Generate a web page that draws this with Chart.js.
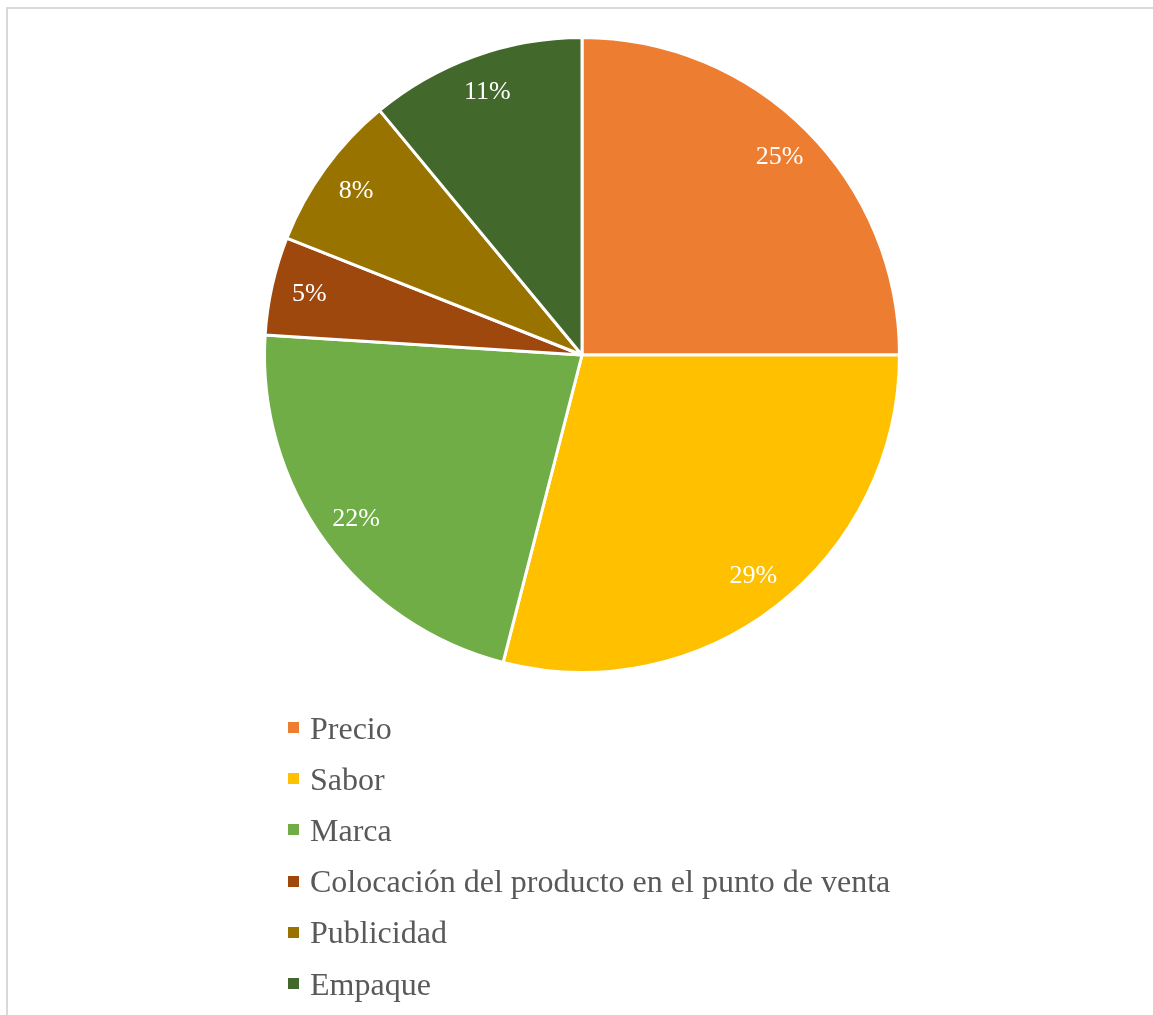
<!DOCTYPE html>
<html>
<head>
<meta charset="utf-8">
<script src="https://cdn.jsdelivr.net/npm/chart.js@4.4.1/dist/chart.umd.min.js"></script>
<style>
  html, body { margin: 0; padding: 0; background: #fff; overflow: hidden; }
  #wrap { position: relative; width: 1153px; height: 1015px; overflow: hidden; }
  #frame { position: absolute; left: 6px; top: 7px; width: 1300px; height: 1200px;
           border: 2px solid #d9d9d9; box-sizing: border-box; }
  #pie { position: absolute; left: 0; top: 0; }
  #legend { position: absolute; left: 288px; top: 702px; margin: 0; padding: 0; list-style: none;
            font-family: "Liberation Serif", "Times New Roman", serif; font-size: 32px; color: #595959; }
  #legend li { height: 51.2px; line-height: 40px; display: flex; align-items: center; white-space: nowrap; }
  #legend li span { display: inline-block; width: 11px; height: 11px; margin-right: 11px; }
</style>
</head>
<body>
<div id="wrap">
  <div id="frame"></div>
  <canvas id="pie" width="1153" height="1015"></canvas>
  <ul id="legend"></ul>
</div>
<script>
const categorias = ['Precio', 'Sabor', 'Marca', 'Colocación del producto en el punto de venta', 'Publicidad', 'Empaque']
const porcentajes = [25, 29, 22, 5, 8, 11]
const colores = ['#ED7D31', '#FFC000', '#70AD47', '#9E480E', '#997300', '#43682B']

// white percentage labels inside each slice
const etiquetas = {
    id: 'etiquetas',
    afterDatasetsDraw(chart) {
        const c = chart.ctx
        const meta = chart.getDatasetMeta(0)
        c.save()
        c.fillStyle = '#ffffff'
        c.font = '26px "Liberation Serif", "Times New Roman", serif'
        c.textAlign = 'center'
        c.textBaseline = 'middle'
        meta.data.forEach((arc, i) => {
            const p = arc.getProps(['x', 'y', 'startAngle', 'endAngle', 'outerRadius'], true)
            const mid = (p.startAngle + p.endAngle) / 2
            const r = p.outerRadius * 0.88
            c.fillText(porcentajes[i] + '%', p.x + Math.cos(mid) * r, p.y + Math.sin(mid) * r)
        })
        c.restore()
    }
}

// legend list below the pie
const leyenda = {
    id: 'leyenda',
    afterUpdate(chart) {
        const ul = document.getElementById('legend')
        ul.innerHTML = ''
        chart.options.plugins.legend.labels.generateLabels(chart).forEach(item => {
            const li = document.createElement('li')
            const box = document.createElement('span')
            box.style.background = item.fillStyle
            li.appendChild(box)
            li.appendChild(document.createTextNode(item.text))
            ul.appendChild(li)
        })
    }
}

new Chart(document.getElementById('pie'), {
    type: 'pie',
    data: {
        labels: categorias,
        datasets: [{
            data: porcentajes,
            backgroundColor: colores,
            borderColor: '#ffffff',
            borderWidth: 3,
            hoverOffset: 0
        }]
    },
    options: {
        responsive: false,
        animation: false,
        events: [],
        layout: {
            padding: { left: 263, top: 36, right: 252, bottom: 341 }
        },
        plugins: {
            legend: { display: false },
            tooltip: { enabled: false }
        }
    },
    plugins: [etiquetas, leyenda]
})
</script>
</body>
</html>
